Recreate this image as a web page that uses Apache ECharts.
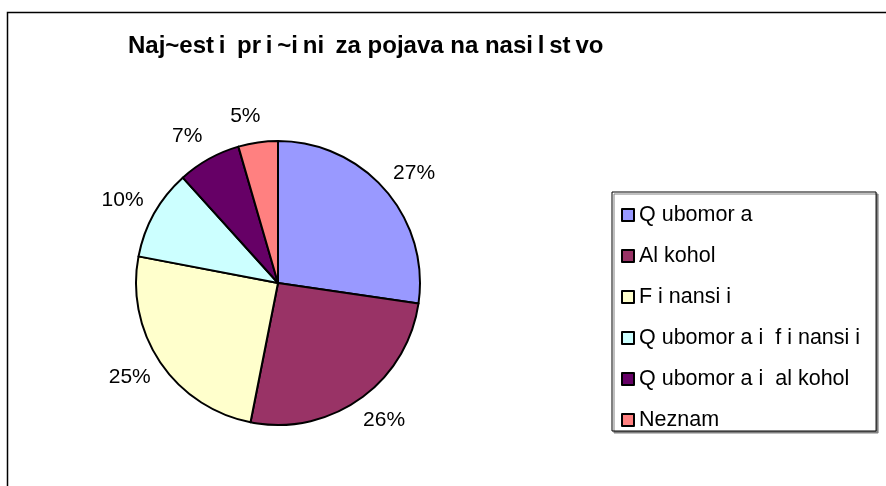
<!DOCTYPE html>
<html>
<head>
<meta charset="utf-8">
<title>Naj~esti pri~ini za pojava na nasilstvo</title>
<script src="https://cdn.jsdelivr.net/npm/echarts@6/dist/echarts.min.js"></script>
<style>
  html, body { margin: 0; padding: 0; background: #fff; }
  #chart { width: 886px; height: 486px; }
</style>
</head>
<body>
<div id="chart"></div>
<script>
// chart data (text kept as it shows in the chart, gaps included)
var titleText = 'Naj~est\u2009i\u2009 pr\u2009i\u2009~i\u2009ni\u2009 za pojava na nasi\u2009l\u2009st\u2009vo'
var categories = ['Q ubomor a', 'Al kohol', 'F i nansi i', 'Q ubomor a i  f i nansi i', 'Q ubomor a i  al kohol', 'Neznam']
var values = [27.3, 25.8, 24.9, 10.3, 7.2, 4.5]
var colors = ['#9999FF', '#993366', '#FFFFCC', '#CCFFFF', '#660066', '#FF8080']

var font = '"Liberation Sans", Arial, sans-serif'

var chart = echarts.init(document.getElementById('chart'))

chart.setOption({
  backgroundColor: '#fff',
  animation: false,
  color: colors,
  title: {
    text: titleText,
    left: 128,
    top: 34,
    padding: 0,
    textStyle: {
      color: '#000',
      fontFamily: font,
      fontWeight: 'bold',
      fontSize: 24
    }
  },
  legend: {
    orient: 'vertical',
    left: 612,
    top: 192,
    padding: [12, 16, 0, 9],
    itemGap: 19,
    itemWidth: 12,
    itemHeight: 12,
    icon: 'rect',
    backgroundColor: '#fff',
    borderColor: '#000',
    borderWidth: 1,
    borderRadius: 0,
    shadowColor: '#808080',
    shadowOffsetX: 2,
    shadowOffsetY: 2,
    shadowBlur: 0,
    textStyle: {
      color: '#000',
      fontFamily: font,
      fontSize: 21.5,
      lineHeight: 20
    },
    data: categories
  },
  graphic: [{
    type: 'rect',
    silent: true,
    shape: { x: 7.5, y: 12.5, width: 1000, height: 600 },
    style: { fill: 'none', stroke: '#000', lineWidth: 1.5 }
  }],
  series: [{
    type: 'pie',
    center: [278, 283],
    radius: 142,
    startAngle: 90,
    clockwise: true,
    percentPrecision: 0,
    avoidLabelOverlap: false,
    itemStyle: {
      borderColor: '#000',
      borderWidth: 2
    },
    label: {
      show: true,
      position: 'outside',
      distanceToLabelLine: -13,
      formatter: '{p|{d}%}',
      rich: {
        p: {
          width: 44,
          align: 'center',
          color: '#000',
          fontFamily: font,
          fontSize: 21,
          lineHeight: 20
        }
      }
    },
    labelLine: { show: false, length: 26, length2: 0 },
    emphasis: { disabled: true },
    data: categories.map(function (name, i) {
      return { name: name, value: values[i] }
    })
  }]
})
</script>
</body>
</html>
